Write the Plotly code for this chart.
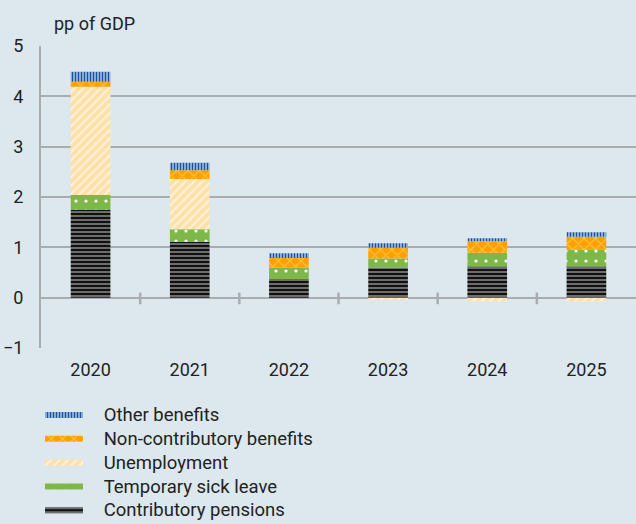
import plotly.graph_objects as go

# Contribution to social-benefit spending, percentage points of GDP
years = ["2020", "2021", "2022", "2023", "2024", "2025"]
contributory_pensions = [1.74, 1.11, 0.37, 0.60, 0.62, 0.62]
temporary_sick_leave = [0.30, 0.25, 0.23, 0.18, 0.27, 0.33]
unemployment = [2.15, 1.00, 0.00, -0.04, -0.07, -0.07]
non_contributory = [0.10, 0.17, 0.19, 0.21, 0.23, 0.26]
other_benefits = [0.20, 0.15, 0.09, 0.09, 0.06, 0.09]

y_ticks = [-1, 0, 1, 2, 3, 4, 5]

BG = "#dce7ee"
GRID = "#a9adb0"
FONT = "Roboto"
TXT = "#222222"

series = [
    ("Contributory pensions", contributory_pensions,
     dict(shape="-", bgcolor="#111111", fgcolor="#777777", size=4, solidity=0.45)),
    ("Temporary sick leave", temporary_sick_leave,
     dict(shape=".", bgcolor="#7db848", fgcolor="#ffffff", size=10, solidity=0.08)),
    ("Unemployment", unemployment,
     dict(shape="/", bgcolor="#ffe0a6", fgcolor="#fff3dc", size=6, solidity=0.35)),
    ("Non-contributory benefits", non_contributory,
     dict(shape="x", bgcolor="#ffa000", fgcolor="#ffc848", size=8, solidity=0.25)),
    ("Other benefits", other_benefits,
     dict(shape="|", bgcolor="#a9c9ec", fgcolor="#1c4f9c", size=3, solidity=0.5)),
]

fig = go.Figure()
for name, vals, pat in series:
    pattern = dict(shape=pat["shape"], bgcolor=pat["bgcolor"], fgcolor=pat["fgcolor"],
                   fgopacity=1, size=pat["size"], solidity=pat["solidity"],
                   fillmode="replace")
    fig.add_trace(go.Bar(
        x=years, y=vals, name=name, showlegend=False,
        marker=dict(color=pat["bgcolor"], line=dict(width=0), pattern=pattern),
        hoverinfo="skip",
    ))
    # wide patterned swatch for the legend
    fig.add_trace(go.Scatter(
        x=[None], y=[None], mode="none", fill="tozeroy",
        name="\u00a0\u00a0\u00a0<span style='font-size:18.5px'>\u2009" + name + "</span>",
        fillcolor=pat["bgcolor"], fillpattern=pattern, showlegend=True,
        hoverinfo="skip",
    ))

# category boundary ticks crossing the zero line
for i in range(1, len(years)):
    fig.add_shape(type="line", xref="x", yref="y", x0=i - 0.5, x1=i - 0.5,
                  y0=-0.13, y1=0.1, line=dict(color=GRID, width=2.5), layer="above")

fig.add_annotation(text="pp of GDP", xref="paper", yref="paper", x=0.018, y=1.076,
                   xanchor="left", yanchor="middle", showarrow=False,
                   font=dict(family=FONT, size=18, color=TXT))

fig.update_layout(
    width=636, height=524,
    margin=dict(l=41, r=0, t=46, b=176, autoexpand=False),
    paper_bgcolor=BG, plot_bgcolor=BG,
    barmode="relative", bargap=0.6,
    font=dict(family=FONT, size=18, color=TXT),
    showlegend=True,
    legend=dict(x=-0.0017, y=-0.166, xanchor="left", yanchor="top",
                traceorder="reversed", bgcolor="rgba(0,0,0,0)",
                itemwidth=38, font=dict(family=FONT, size=16, color=TXT)),
    xaxis=dict(type="category", showgrid=False, ticks="", showline=False,
               zeroline=False, ticklabelstandoff=9),
    yaxis=dict(range=[-1, 5], tickvals=y_ticks, showgrid=True, gridcolor=GRID,
               gridwidth=2, zeroline=True, zerolinecolor=GRID, zerolinewidth=2,
               showline=True, linecolor=GRID, linewidth=2, ticks="",
               ticklabelstandoff=12),
)

fig.write_html("out.html")
